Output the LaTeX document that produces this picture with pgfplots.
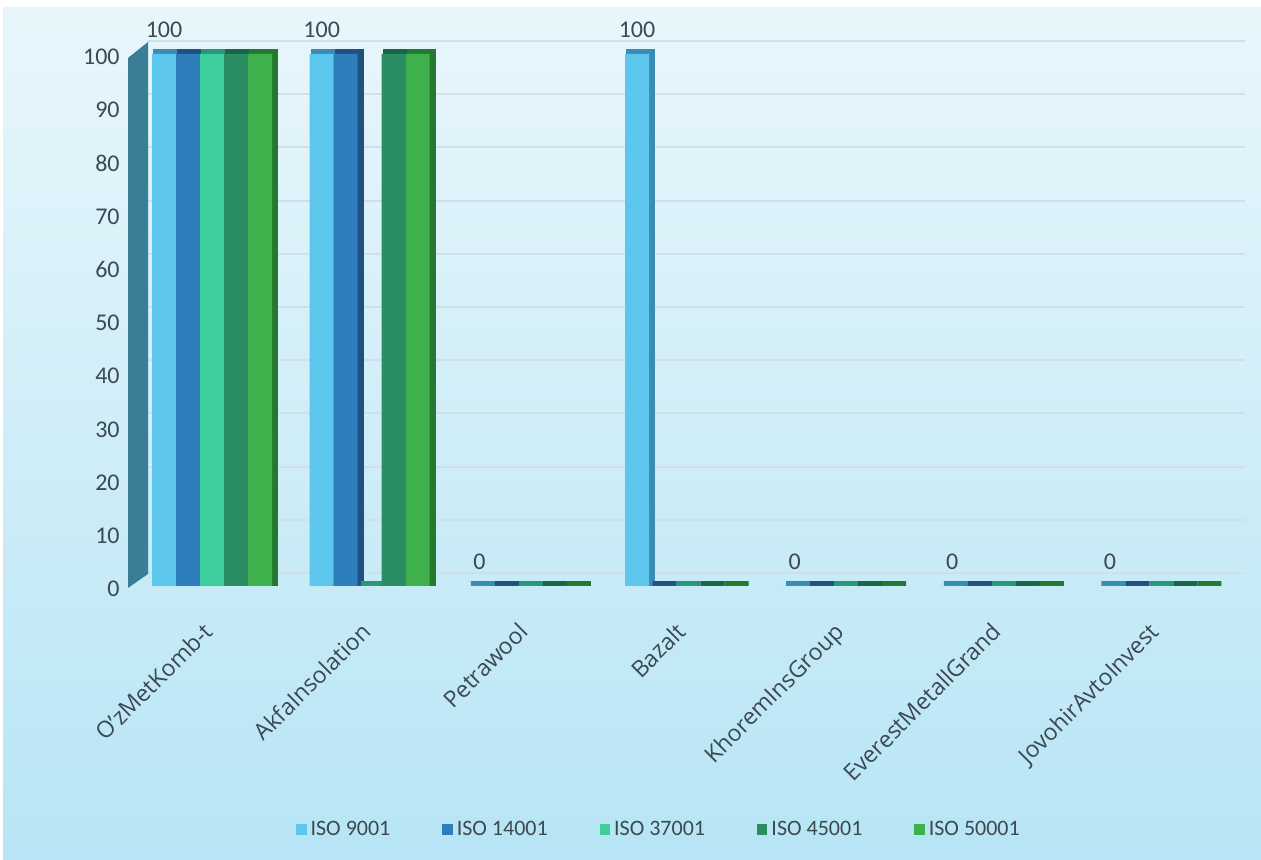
\documentclass[border=0pt]{standalone}
\usepackage{fontspec}
\setmainfont{Carlito}
\newfontfamily\catfont{Open Sans}
\usepackage{pgfplots}
\usepackage{pgfplotstable}
\pgfplotsset{compat=1.18}
\definecolor{cA}{RGB}{92,198,236}
\definecolor{cB}{RGB}{46,126,190}
\definecolor{cC}{RGB}{62,206,156}
\definecolor{cD}{RGB}{42,142,98}
\definecolor{cE}{RGB}{62,176,76}
\definecolor{sA}{RGB}{58,140,180}
\definecolor{sB}{RGB}{30,80,130}
\definecolor{sC}{RGB}{40,150,120}
\definecolor{sD}{RGB}{28,100,70}
\definecolor{sE}{RGB}{36,120,48}
\definecolor{bgtop}{RGB}{232,246,251}
\definecolor{bgbot}{RGB}{183,229,245}
\definecolor{labcol}{RGB}{60,72,82}
\definecolor{wall}{RGB}{58,125,150}
\definecolor{gridc}{RGB}{208,224,231}
\pgfplotstableread{
x a b c d e
0 100 100 100 100 100
1 100 100 0 100 100
2 0 0 0 0 0
3 100 0 0 0 0
4 0 0 0 0 0
5 0 0 0 0 0
6 0 0 0 0 0
}\data
\begin{document}
\begin{tikzpicture}
\path[use as bounding box] (0,0) rectangle (630.5pt,430pt);
\shade[top color=bgtop, bottom color=bgbot] (1.5pt,0) rectangle (630.5pt,426pt);
\begin{axis}[
  at={(74pt,137pt)}, anchor=south west,
  scale only axis, width=548.5pt, height=266pt,
  xmin=-0.406, xmax=6.552, ymin=0, ymax=100,
  axis line style={draw=none}, tick style={draw=none},
  ytick={0,10,...,100}, xtick={0,...,6},
  xticklabels={O’zMetKomb-t,AkfaInsolation,Petrawool,Bazalt,KhoremInsGroup,EverestMetallGrand,JovohirAvtoInvest},
  ymajorgrids, major grid style={draw=gridc, line width=1pt, yshift=6.5pt},
  ybar, bar width=12pt,
  clip=false,
  yticklabel style={anchor=east, inner sep=0pt, xshift=-14pt, yshift=-1.5pt, font=\fontsize{12}{14}\selectfont, text=labcol},
  xticklabel style={yshift=-13pt, xshift=-5pt, rotate=45, anchor=north east, inner sep=0pt, font=\catfont\fontsize{11.5}{13}\selectfont, text=labcol},
  /pgf/number format/assume math mode=true,
  legend style={at={(0.4667,-0.458)}, anchor=center, draw=none, fill=none, legend columns=5, font=\fontsize{11}{13}\selectfont, text=labcol, /tikz/every even column/.append style={column sep=24pt}},
  legend image code/.code={\fill[#1] (0pt,-2.6pt) rectangle (5.2pt,2.6pt);},
]
\fill[wall] ([xshift=-10pt,yshift=-1pt]rel axis cs:0,0) -- ([xshift=-10pt,yshift=-2pt]rel axis cs:0,1) -- ([yshift=6pt]rel axis cs:0,1) -- ([yshift=6pt]rel axis cs:0,0) -- cycle;
\addplot[bar shift=-24pt, fill=sA, draw=sA, line width=2.5pt, xshift=1.75pt, yshift=1.25pt, forget plot] table[x=x,y=a]{\data};
\addplot[bar shift=-12pt, fill=sB, draw=sB, line width=2.5pt, xshift=1.75pt, yshift=1.25pt, forget plot] table[x=x,y=b]{\data};
\addplot[bar shift=0pt, fill=sC, draw=sC, line width=2.5pt, xshift=1.75pt, yshift=1.25pt, forget plot] table[x=x,y=c]{\data};
\addplot[bar shift=12pt, fill=sD, draw=sD, line width=2.5pt, xshift=1.75pt, yshift=1.25pt, forget plot] table[x=x,y=d]{\data};
\addplot[bar shift=24pt, fill=sE, draw=sE, line width=2.5pt, xshift=1.75pt, yshift=1.25pt, forget plot] table[x=x,y=e]{\data};
\addplot[bar shift=-24pt, fill=cA, draw=none, nodes near coords, nodes near coords style={anchor=south, inner sep=0pt, yshift=8pt, font=\fontsize{12}{14}\selectfont, text=labcol}] table[x=x,y=a]{\data};
\addlegendentry{ISO 9001}
\addplot[bar shift=-12pt, fill=cB, draw=none] table[x=x,y=b]{\data};
\addlegendentry{ISO 14001}
\addplot[bar shift=0pt, fill=cC, draw=none] table[x=x,y=c]{\data};
\addlegendentry{ISO 37001}
\addplot[bar shift=12pt, fill=cD, draw=none] table[x=x,y=d]{\data};
\addlegendentry{ISO 45001}
\addplot[bar shift=24pt, fill=cE, draw=none] table[x=x,y=e]{\data};
\addlegendentry{ISO 50001}
\end{axis}
\end{tikzpicture}
\end{document}
